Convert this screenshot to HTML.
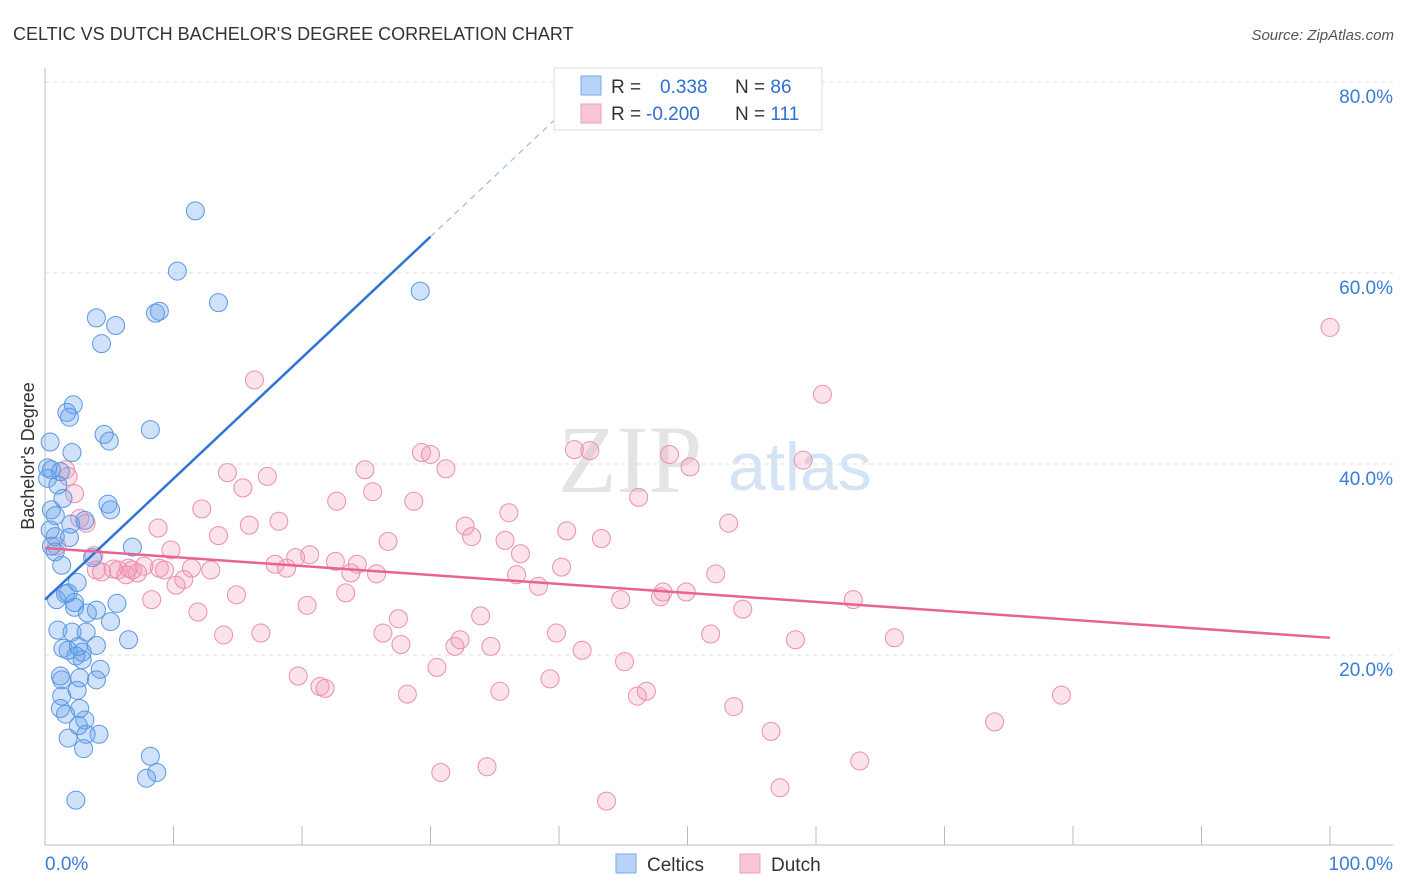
<!DOCTYPE html>
<html><head><meta charset="utf-8"><style>
body{margin:0;background:#fff;font-family:"Liberation Sans",sans-serif}
svg{display:block}
</style></head><body>
<svg width="1406" height="892" id="chart">
<text x="13" y="40" font-size="18" fill="#333">CELTIC VS DUTCH BACHELOR'S DEGREE CORRELATION CHART</text>
<text x="1394" y="40" font-size="15" fill="#555" font-style="italic" text-anchor="end">Source: ZipAtlas.com</text>
<text x="630" y="492" font-size="96" font-family="Liberation Serif,serif" fill="#e4e4e4" text-anchor="middle">ZIP</text>
<text x="800" y="490" font-size="68" fill="#d5e4f5" text-anchor="middle">atlas</text>
<text transform="translate(34,456) rotate(-90)" font-size="18" fill="#333" text-anchor="middle">Bachelor's Degree</text>
<g id="grid"></g><g id="pts"></g><g id="lines"></g>
<g>
<rect x="554" y="68" width="268" height="62" fill="#fff" stroke="#ddd"/>
<rect x="581" y="76" width="20" height="19" fill="#b8d3f7" stroke="#7aaae8"/>
<rect x="581" y="104" width="20" height="19" fill="#f9c6d5" stroke="#eda0b8"/>
<text x="611" y="93" font-size="19" fill="#333">R = <tspan fill="#2e6fd1" x="660">0.338</tspan><tspan x="735" fill="#333">N = </tspan><tspan fill="#2e6fd1">86</tspan></text>
<text x="611" y="120" font-size="19" fill="#333">R = <tspan fill="#2e6fd1" x="646">-0.200</tspan><tspan x="735" fill="#333">N = </tspan><tspan fill="#2e6fd1">111</tspan></text>
</g>
<g>
<rect x="616" y="854" width="20" height="19" fill="#b8d3f7" stroke="#7aaae8"/>
<text x="647" y="871" font-size="19" fill="#333">Celtics</text>
<rect x="740" y="854" width="20" height="19" fill="#f9c6d5" stroke="#eda0b8"/>
<text x="771" y="871" font-size="19" fill="#333">Dutch</text>
</g>
</svg>
<script>
const blueX=[11.7,10.3,29.2,13.5,8.6,8.9,4.0,5.5,4.4,2.2,1.7,1.9,8.2,4.6,5.0,0.4,2.1,0.2,0.5,1.2,0.2,1.0,1.4,4.9,5.1,0.5,0.8,2.0,3.1,0.4,0.8,1.9,0.5,6.8,0.8,3.7,1.3,2.5,0.9,1.6,1.8,2.3,5.6,4.0,2.3,3.3,5.1,1.0,2.1,3.2,6.5,4.0,1.4,1.8,2.6,2.9,2.4,2.9,4.3,1.2,1.3,2.7,4.0,2.5,1.3,2.7,1.2,1.6,3.1,2.6,1.8,3.2,4.2,3.0,8.2,8.7,7.9,2.4];
const blueY=[66.5,60.2,58.1,56.9,55.8,56.0,55.3,54.5,52.6,46.2,45.4,44.9,43.6,43.1,42.4,42.3,41.2,39.6,39.4,39.2,38.5,37.8,36.4,35.8,35.2,35.2,34.6,33.7,34.1,33.1,32.4,32.3,31.4,31.3,30.8,30.2,29.4,27.6,25.8,26.4,26.5,25.5,25.4,24.7,25.0,24.4,23.5,22.6,22.4,22.4,21.6,21.0,20.7,20.5,20.9,20.3,19.9,19.5,18.5,17.8,17.4,17.6,17.4,16.3,15.7,14.4,14.4,13.8,13.2,12.6,11.3,11.7,11.7,10.2,9.4,7.7,7.1,4.8];
const pinkX=[100,16.3,60.5,41.2,42.4,29.3,30,48.6,59,50.2,31.2,24.9,14.2,17.3,1.6,1.8,15.4,25.5,46.2,2.3,22.7,28.7,12.2,36.1,2.7,3.2,53.2,18.2,15.9,8.8,32.7,40.6,13.5,33.2,43.3,26.7,35.8,0.9,9.8,37.0,20.6,19.5,3.8,22.6,24.3,17.9,5.3,6.5,8.9,11.4,4.0,4.4,5.7,6.8,7.7,7.2,9.3,12.9,18.8,6.3,40.2,23.8,25.8,36.7,52.2,10.8,10.2,38.4,48.1,49.9,47.9,23.4,14.9,8.3,44.8,62.9,20.4,54.3,11.9,33.9,27.5,13.9,26.3,16.8,39.8,51.8,32.3,66.1,58.4,27.7,31.9,34.7,41.8,45.1,30.5,19.7,39.3,21.4,21.8,35.4,28.2,46.8,46.1,79.1,53.6,73.9,56.5,63.4,34.4,30.8,57.2,43.7];
const pinkY=[54.3,48.8,47.3,41.5,41.4,41.2,41,41.0,40.4,39.7,39.5,39.4,39.1,38.7,39.4,38.7,37.5,37.1,36.5,36.9,36.1,36.1,35.3,34.9,34.3,33.8,33.8,34.0,33.6,33.3,33.5,33.0,32.5,32.4,32.2,31.9,32.0,31.4,31.0,30.6,30.5,30.2,30.4,29.8,29.5,29.5,29.0,29.1,29.1,29.1,28.9,28.7,28.9,28.9,29.3,28.6,28.9,28.9,29.1,28.4,29.2,28.6,28.5,28.4,28.5,27.9,27.3,27.2,26.6,26.6,26.1,26.5,26.3,25.8,25.8,25.8,25.2,24.8,24.5,24.1,23.8,22.1,22.3,22.3,22.3,22.2,21.6,21.8,21.6,21.1,20.9,20.9,20.5,19.3,18.7,17.8,17.5,16.7,16.5,16.2,15.9,16.2,15.7,15.8,14.6,13.0,12.0,8.9,8.3,7.7,6.1,4.7];
const yTicks=[20,40,60,80];
const xTickLabels=["0.0%","100.0%"];
const blueFit=[25.8,63.8];  // y at x=0 and x=30
const pinkFit=[31.2,21.8];  // y at x=0 and x=100

const NS="http://www.w3.org/2000/svg";
const sx=v=>45+v*12.85, sy=v=>846-v*9.55;
function mk(tag,attrs,parent){const e=document.createElementNS(NS,tag);for(const k in attrs)e.setAttribute(k,attrs[k]);parent.appendChild(e);return e;}
const grid=document.getElementById('grid'),pts=document.getElementById('pts'),lines=document.getElementById('lines');
yTicks.forEach(t=>{
  const l=mk('line',{x1:45,x2:1393,y1:sy(t),y2:sy(t),stroke:'#ddd','stroke-dasharray':'4,4'},grid);
  
  
  const tx=mk('text',{x:1393,y:sy(t)+21,'font-size':19,fill:'#3a7bd5','text-anchor':'end'},grid);
  tx.textContent=t.toFixed(1)+'%';
  
  
});
const ax=mk('line',{x1:45,x2:1393,y1:845,y2:845,stroke:'#bbb'},grid);


const ay=mk('line',{x1:45,x2:45,y1:68,y2:845,stroke:'#bbb'},grid);


for(let i=0;i<=10;i++){
  const t=mk('line',{x1:sx(i*10),x2:sx(i*10),y1:826,y2:845,stroke:'#bbb'},grid);
  
  
}
[[0,'start',xTickLabels[0]],[100,'end',xTickLabels[1]]].forEach(([v,a,s])=>{
  const t=mk('text',{x:v==0?45:1393,y:870,'font-size':19,fill:'#3a7bd5','text-anchor':a},grid);
  t.textContent=s;
  
  
});
pinkX.forEach((x,i)=>{
  const c=mk('circle',{cx:sx(x),cy:sy(pinkY[i]),r:9,fill:'rgba(243,150,180,0.28)',stroke:'#eb8fad','stroke-width':1},pts);
  
  
});
blueX.forEach((x,i)=>{
  const c=mk('circle',{cx:sx(x),cy:sy(blueY[i]),r:9,fill:'rgba(100,160,235,0.3)',stroke:'#5a97e3','stroke-width':1},pts);
  
  
});
const bslope=(blueFit[1]-blueFit[0])/30;
const bl=mk('line',{x1:sx(0),y1:sy(blueFit[0]),x2:sx(30),y2:sy(blueFit[1]),stroke:'#2f73d8','stroke-width':2.5},lines);


const bd=mk('line',{x1:sx(30),y1:sy(blueFit[1]),x2:sx(39.7),y2:sy(blueFit[0]+bslope*39.7),stroke:'#9bbbe8','stroke-width':1.2,'stroke-dasharray':'6,5'},lines);


const pl=mk('line',{x1:sx(0),y1:sy(pinkFit[0]),x2:sx(100),y2:sy(pinkFit[1]),stroke:'#e8648f','stroke-width':2.5},lines);


</script>
</body></html>
